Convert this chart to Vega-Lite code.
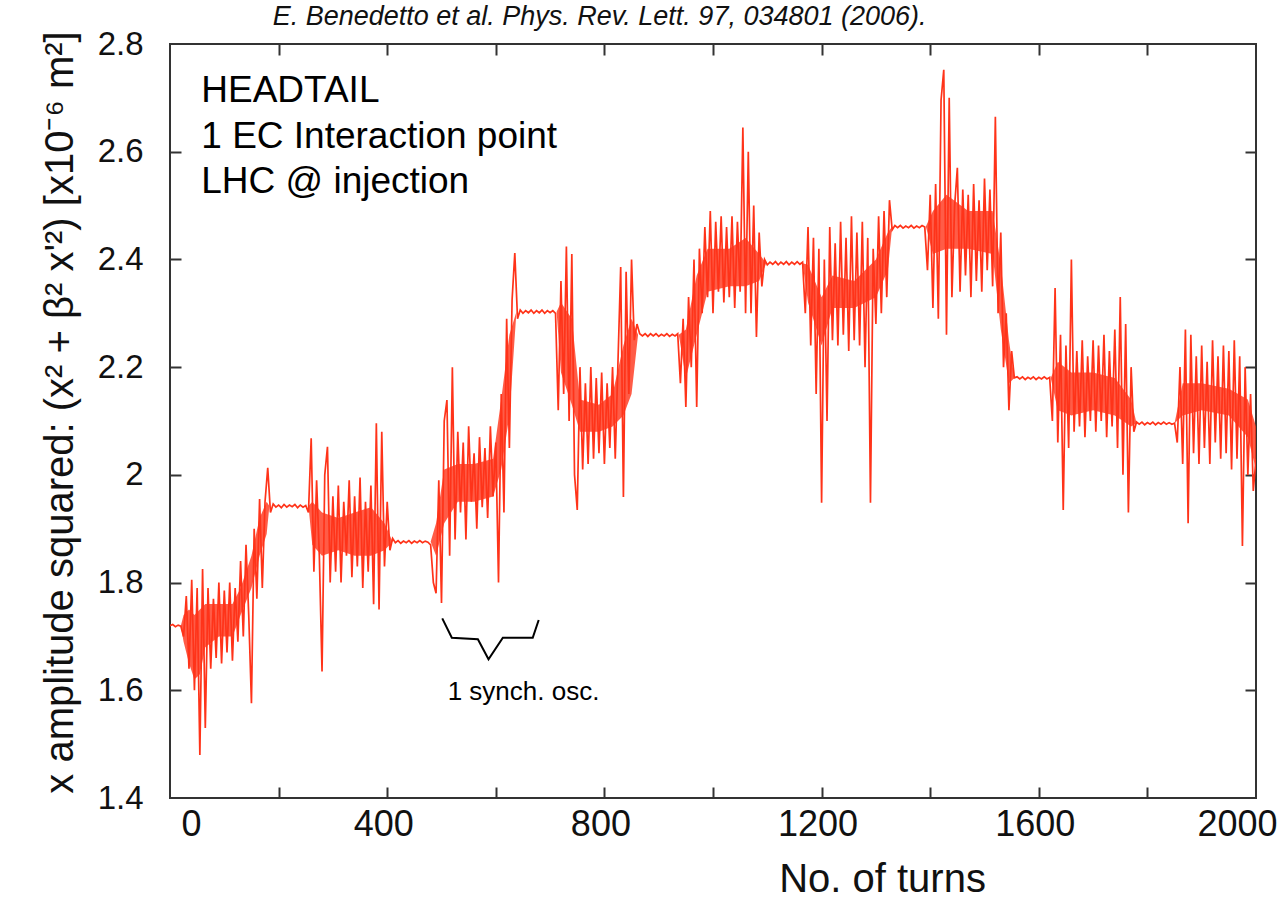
{
"$schema": "https://vega.github.io/schema/vega-lite/v6.json",
"width": 1086, "height": 754,
"autosize": {"type": "none"},
"padding": {"left": 170, "top": 44, "right": 29, "bottom": 103},
"background": "white",
"config": {"view": {"stroke": "#333", "strokeWidth": 2}, "axis": {"grid": false, "domain": false, "labelFont": "Liberation Sans", "titleFont": "Liberation Sans", "labelColor": "#111", "titleColor": "#111", "tickColor": "#333", "tickWidth": 2}, "text": {"font": "Liberation Sans"}},
"datasets": {
"series": [
{"turn":0,"amp":1.720},{"turn":5,"amp":1.722},{"turn":10,"amp":1.718},{"turn":15,"amp":1.721},{"turn":20,"amp":1.719},{"turn":25,"amp":1.700},{"turn":30,"amp":1.775},{"turn":35,"amp":1.640},{"turn":40,"amp":1.805},{"turn":45,"amp":1.600},{"turn":50,"amp":1.790},{"turn":55,"amp":1.480},{"turn":60,"amp":1.825},{"turn":65,"amp":1.530},{"turn":70,"amp":1.790},{"turn":75,"amp":1.640},{"turn":80,"amp":1.770},{"turn":85,"amp":1.660},{"turn":90,"amp":1.800},{"turn":95,"amp":1.650},{"turn":100,"amp":1.785},{"turn":105,"amp":1.670},{"turn":110,"amp":1.800},{"turn":115,"amp":1.655},{"turn":120,"amp":1.790},{"turn":125,"amp":1.690},{"turn":130,"amp":1.840},{"turn":135,"amp":1.700},{"turn":140,"amp":1.870},{"turn":145,"amp":1.740},{"turn":150,"amp":1.576},{"turn":155,"amp":1.900},{"turn":160,"amp":1.770},{"turn":165,"amp":1.955},{"turn":170,"amp":1.790},{"turn":175,"amp":1.950},{"turn":180,"amp":2.013},{"turn":185,"amp":1.930},{"turn":190,"amp":1.946},{"turn":195,"amp":1.940},{"turn":200,"amp":1.944},{"turn":205,"amp":1.939},{"turn":210,"amp":1.945},{"turn":215,"amp":1.940},{"turn":220,"amp":1.944},{"turn":225,"amp":1.941},{"turn":230,"amp":1.945},{"turn":235,"amp":1.939},{"turn":240,"amp":1.944},{"turn":245,"amp":1.940},{"turn":250,"amp":1.943},{"turn":255,"amp":1.930},{"turn":260,"amp":2.068},{"turn":265,"amp":1.820},{"turn":270,"amp":1.990},{"turn":275,"amp":1.850},{"turn":280,"amp":1.635},{"turn":285,"amp":2.000},{"turn":290,"amp":2.052},{"turn":295,"amp":1.800},{"turn":300,"amp":1.960},{"turn":305,"amp":1.820},{"turn":310,"amp":1.980},{"turn":315,"amp":1.800},{"turn":320,"amp":1.950},{"turn":325,"amp":1.850},{"turn":330,"amp":1.990},{"turn":335,"amp":1.810},{"turn":340,"amp":1.960},{"turn":345,"amp":1.830},{"turn":350,"amp":1.995},{"turn":355,"amp":1.790},{"turn":360,"amp":1.950},{"turn":365,"amp":1.820},{"turn":370,"amp":1.980},{"turn":375,"amp":1.760},{"turn":380,"amp":2.096},{"turn":385,"amp":1.750},{"turn":390,"amp":2.080},{"turn":395,"amp":1.830},{"turn":400,"amp":1.950},{"turn":405,"amp":1.860},{"turn":410,"amp":1.882},{"turn":415,"amp":1.874},{"turn":420,"amp":1.878},{"turn":425,"amp":1.873},{"turn":430,"amp":1.877},{"turn":435,"amp":1.874},{"turn":440,"amp":1.878},{"turn":445,"amp":1.873},{"turn":450,"amp":1.877},{"turn":455,"amp":1.874},{"turn":460,"amp":1.878},{"turn":465,"amp":1.874},{"turn":470,"amp":1.877},{"turn":475,"amp":1.875},{"turn":480,"amp":1.870},{"turn":485,"amp":1.800},{"turn":490,"amp":1.780},{"turn":495,"amp":1.990},{"turn":500,"amp":1.762},{"turn":505,"amp":2.100},{"turn":510,"amp":2.139},{"turn":515,"amp":1.850},{"turn":520,"amp":2.200},{"turn":525,"amp":1.880},{"turn":530,"amp":2.080},{"turn":535,"amp":1.930},{"turn":540,"amp":2.060},{"turn":545,"amp":1.880},{"turn":550,"amp":2.090},{"turn":555,"amp":1.950},{"turn":560,"amp":2.040},{"turn":565,"amp":1.900},{"turn":570,"amp":2.070},{"turn":575,"amp":1.940},{"turn":580,"amp":2.050},{"turn":585,"amp":1.920},{"turn":590,"amp":2.090},{"turn":595,"amp":1.960},{"turn":600,"amp":2.060},{"turn":605,"amp":1.800},{"turn":610,"amp":2.150},{"turn":615,"amp":1.930},{"turn":620,"amp":2.290},{"turn":625,"amp":2.050},{"turn":630,"amp":2.325},{"turn":635,"amp":2.412},{"turn":640,"amp":2.290},{"turn":645,"amp":2.306},{"turn":650,"amp":2.300},{"turn":655,"amp":2.305},{"turn":660,"amp":2.301},{"turn":665,"amp":2.306},{"turn":670,"amp":2.300},{"turn":675,"amp":2.305},{"turn":680,"amp":2.301},{"turn":685,"amp":2.306},{"turn":690,"amp":2.300},{"turn":695,"amp":2.305},{"turn":700,"amp":2.301},{"turn":705,"amp":2.305},{"turn":710,"amp":2.300},{"turn":715,"amp":2.120},{"turn":720,"amp":2.360},{"turn":725,"amp":2.150},{"turn":730,"amp":2.424},{"turn":735,"amp":2.100},{"turn":740,"amp":2.410},{"turn":745,"amp":2.000},{"turn":750,"amp":1.935},{"turn":755,"amp":2.200},{"turn":760,"amp":2.010},{"turn":765,"amp":2.170},{"turn":770,"amp":2.020},{"turn":775,"amp":2.200},{"turn":780,"amp":2.030},{"turn":785,"amp":2.180},{"turn":790,"amp":2.040},{"turn":795,"amp":2.190},{"turn":800,"amp":2.020},{"turn":805,"amp":2.170},{"turn":810,"amp":2.050},{"turn":815,"amp":2.200},{"turn":820,"amp":2.030},{"turn":825,"amp":2.210},{"turn":830,"amp":2.386},{"turn":835,"amp":1.959},{"turn":840,"amp":2.377},{"turn":845,"amp":2.150},{"turn":850,"amp":2.400},{"turn":855,"amp":2.250},{"turn":860,"amp":2.280},{"turn":865,"amp":2.262},{"turn":870,"amp":2.258},{"turn":875,"amp":2.262},{"turn":880,"amp":2.257},{"turn":885,"amp":2.262},{"turn":890,"amp":2.258},{"turn":895,"amp":2.262},{"turn":900,"amp":2.257},{"turn":905,"amp":2.261},{"turn":910,"amp":2.258},{"turn":915,"amp":2.262},{"turn":920,"amp":2.257},{"turn":925,"amp":2.261},{"turn":930,"amp":2.258},{"turn":935,"amp":2.262},{"turn":940,"amp":2.170},{"turn":945,"amp":2.290},{"turn":950,"amp":2.126},{"turn":955,"amp":2.330},{"turn":960,"amp":2.200},{"turn":965,"amp":2.400},{"turn":970,"amp":2.126},{"turn":975,"amp":2.420},{"turn":980,"amp":2.300},{"turn":985,"amp":2.460},{"turn":990,"amp":2.330},{"turn":995,"amp":2.490},{"turn":1000,"amp":2.300},{"turn":1005,"amp":2.470},{"turn":1010,"amp":2.340},{"turn":1015,"amp":2.480},{"turn":1020,"amp":2.320},{"turn":1025,"amp":2.460},{"turn":1030,"amp":2.330},{"turn":1035,"amp":2.480},{"turn":1040,"amp":2.310},{"turn":1045,"amp":2.470},{"turn":1050,"amp":2.340},{"turn":1055,"amp":2.645},{"turn":1060,"amp":2.300},{"turn":1065,"amp":2.600},{"turn":1070,"amp":2.300},{"turn":1075,"amp":2.500},{"turn":1080,"amp":2.256},{"turn":1085,"amp":2.450},{"turn":1090,"amp":2.350},{"turn":1095,"amp":2.400},{"turn":1100,"amp":2.390},{"turn":1105,"amp":2.395},{"turn":1110,"amp":2.391},{"turn":1115,"amp":2.396},{"turn":1120,"amp":2.390},{"turn":1125,"amp":2.395},{"turn":1130,"amp":2.391},{"turn":1135,"amp":2.396},{"turn":1140,"amp":2.390},{"turn":1145,"amp":2.395},{"turn":1150,"amp":2.391},{"turn":1155,"amp":2.396},{"turn":1160,"amp":2.391},{"turn":1165,"amp":2.395},{"turn":1170,"amp":2.300},{"turn":1175,"amp":2.460},{"turn":1180,"amp":2.240},{"turn":1185,"amp":2.440},{"turn":1190,"amp":2.150},{"turn":1195,"amp":2.420},{"turn":1200,"amp":1.948},{"turn":1205,"amp":2.400},{"turn":1210,"amp":2.100},{"turn":1215,"amp":2.460},{"turn":1220,"amp":2.250},{"turn":1225,"amp":2.430},{"turn":1230,"amp":2.240},{"turn":1235,"amp":2.470},{"turn":1240,"amp":2.260},{"turn":1245,"amp":2.440},{"turn":1250,"amp":2.230},{"turn":1255,"amp":2.480},{"turn":1260,"amp":2.250},{"turn":1265,"amp":2.450},{"turn":1270,"amp":2.240},{"turn":1275,"amp":2.470},{"turn":1280,"amp":2.200},{"turn":1285,"amp":2.440},{"turn":1290,"amp":1.948},{"turn":1295,"amp":2.420},{"turn":1300,"amp":2.280},{"turn":1305,"amp":2.480},{"turn":1310,"amp":2.300},{"turn":1315,"amp":2.490},{"turn":1320,"amp":2.330},{"turn":1325,"amp":2.510},{"turn":1330,"amp":2.455},{"turn":1335,"amp":2.463},{"turn":1340,"amp":2.459},{"turn":1345,"amp":2.463},{"turn":1350,"amp":2.458},{"turn":1355,"amp":2.462},{"turn":1360,"amp":2.459},{"turn":1365,"amp":2.463},{"turn":1370,"amp":2.458},{"turn":1375,"amp":2.462},{"turn":1380,"amp":2.459},{"turn":1385,"amp":2.463},{"turn":1390,"amp":2.460},{"turn":1395,"amp":2.380},{"turn":1400,"amp":2.520},{"turn":1405,"amp":2.310},{"turn":1410,"amp":2.540},{"turn":1415,"amp":2.290},{"turn":1420,"amp":2.696},{"turn":1425,"amp":2.752},{"turn":1430,"amp":2.260},{"turn":1435,"amp":2.700},{"turn":1440,"amp":2.330},{"turn":1445,"amp":2.500},{"turn":1450,"amp":2.570},{"turn":1455,"amp":2.340},{"turn":1460,"amp":2.530},{"turn":1465,"amp":2.370},{"turn":1470,"amp":2.520},{"turn":1475,"amp":2.330},{"turn":1480,"amp":2.540},{"turn":1485,"amp":2.360},{"turn":1490,"amp":2.510},{"turn":1495,"amp":2.340},{"turn":1500,"amp":2.550},{"turn":1505,"amp":2.380},{"turn":1510,"amp":2.530},{"turn":1515,"amp":2.350},{"turn":1520,"amp":2.665},{"turn":1525,"amp":2.300},{"turn":1530,"amp":2.450},{"turn":1535,"amp":2.200},{"turn":1540,"amp":2.300},{"turn":1545,"amp":2.120},{"turn":1550,"amp":2.230},{"turn":1555,"amp":2.180},{"turn":1560,"amp":2.182},{"turn":1565,"amp":2.178},{"turn":1570,"amp":2.182},{"turn":1575,"amp":2.177},{"turn":1580,"amp":2.181},{"turn":1585,"amp":2.178},{"turn":1590,"amp":2.182},{"turn":1595,"amp":2.177},{"turn":1600,"amp":2.181},{"turn":1605,"amp":2.178},{"turn":1610,"amp":2.182},{"turn":1615,"amp":2.178},{"turn":1620,"amp":2.181},{"turn":1625,"amp":2.100},{"turn":1630,"amp":2.347},{"turn":1635,"amp":2.060},{"turn":1640,"amp":2.260},{"turn":1645,"amp":1.935},{"turn":1650,"amp":2.240},{"turn":1655,"amp":2.050},{"turn":1660,"amp":2.400},{"turn":1665,"amp":2.080},{"turn":1670,"amp":2.230},{"turn":1675,"amp":2.090},{"turn":1680,"amp":2.250},{"turn":1685,"amp":2.070},{"turn":1690,"amp":2.220},{"turn":1695,"amp":2.100},{"turn":1700,"amp":2.250},{"turn":1705,"amp":2.080},{"turn":1710,"amp":2.240},{"turn":1715,"amp":2.100},{"turn":1720,"amp":2.260},{"turn":1725,"amp":2.070},{"turn":1730,"amp":2.230},{"turn":1735,"amp":2.090},{"turn":1740,"amp":2.270},{"turn":1745,"amp":2.050},{"turn":1750,"amp":2.330},{"turn":1755,"amp":2.000},{"turn":1760,"amp":2.280},{"turn":1765,"amp":1.930},{"turn":1770,"amp":2.200},{"turn":1775,"amp":2.080},{"turn":1780,"amp":2.098},{"turn":1785,"amp":2.094},{"turn":1790,"amp":2.098},{"turn":1795,"amp":2.093},{"turn":1800,"amp":2.097},{"turn":1805,"amp":2.094},{"turn":1810,"amp":2.098},{"turn":1815,"amp":2.093},{"turn":1820,"amp":2.097},{"turn":1825,"amp":2.094},{"turn":1830,"amp":2.098},{"turn":1835,"amp":2.094},{"turn":1840,"amp":2.097},{"turn":1845,"amp":2.094},{"turn":1850,"amp":2.096},{"turn":1855,"amp":2.060},{"turn":1860,"amp":2.200},{"turn":1865,"amp":2.020},{"turn":1870,"amp":2.270},{"turn":1875,"amp":1.910},{"turn":1880,"amp":2.260},{"turn":1885,"amp":2.040},{"turn":1890,"amp":2.220},{"turn":1895,"amp":2.020},{"turn":1900,"amp":2.240},{"turn":1905,"amp":2.050},{"turn":1910,"amp":2.210},{"turn":1915,"amp":2.020},{"turn":1920,"amp":2.250},{"turn":1925,"amp":2.060},{"turn":1930,"amp":2.220},{"turn":1935,"amp":2.030},{"turn":1940,"amp":2.240},{"turn":1945,"amp":2.040},{"turn":1950,"amp":2.230},{"turn":1955,"amp":2.010},{"turn":1960,"amp":2.250},{"turn":1965,"amp":2.030},{"turn":1970,"amp":2.220},{"turn":1975,"amp":1.868},{"turn":1980,"amp":2.200},{"turn":1985,"amp":2.000},{"turn":1990,"amp":2.150},{"turn":1995,"amp":1.970},{"turn":2000,"amp":2.030}
],
"core": [
{"turn":0,"lo":1.72,"hi":1.72},{"turn":20,"lo":1.72,"hi":1.72},{"turn":25,"lo":1.69,"hi":1.74},{"turn":35,"lo":1.65,"hi":1.75},{"turn":45,"lo":1.62,"hi":1.74},{"turn":55,"lo":1.63,"hi":1.75},{"turn":65,"lo":1.68,"hi":1.76},{"turn":90,"lo":1.70,"hi":1.76},{"turn":115,"lo":1.70,"hi":1.76},{"turn":130,"lo":1.74,"hi":1.79},{"turn":150,"lo":1.79,"hi":1.85},{"turn":165,"lo":1.85,"hi":1.92},{"turn":178,"lo":1.89,"hi":1.95},{"turn":183,"lo":1.942,"hi":1.942},{"turn":255,"lo":1.942,"hi":1.942},{"turn":262,"lo":1.87,"hi":1.95},{"turn":280,"lo":1.85,"hi":1.93},{"turn":310,"lo":1.86,"hi":1.92},{"turn":340,"lo":1.85,"hi":1.93},{"turn":370,"lo":1.85,"hi":1.94},{"turn":395,"lo":1.86,"hi":1.91},{"turn":410,"lo":1.876,"hi":1.876},{"turn":480,"lo":1.876,"hi":1.876},{"turn":490,"lo":1.85,"hi":1.91},{"turn":505,"lo":1.91,"hi":2.01},{"turn":530,"lo":1.95,"hi":2.02},{"turn":560,"lo":1.95,"hi":2.02},{"turn":595,"lo":1.96,"hi":2.03},{"turn":610,"lo":2.01,"hi":2.14},{"turn":625,"lo":2.11,"hi":2.26},{"turn":638,"lo":2.303,"hi":2.303},{"turn":712,"lo":2.303,"hi":2.303},{"turn":720,"lo":2.19,"hi":2.32},{"turn":740,"lo":2.13,"hi":2.29},{"turn":755,"lo":2.08,"hi":2.14},{"turn":790,"lo":2.08,"hi":2.13},{"turn":815,"lo":2.09,"hi":2.15},{"turn":835,"lo":2.11,"hi":2.24},{"turn":850,"lo":2.15,"hi":2.29},{"turn":862,"lo":2.26,"hi":2.26},{"turn":937,"lo":2.26,"hi":2.26},{"turn":950,"lo":2.18,"hi":2.27},{"turn":970,"lo":2.26,"hi":2.37},{"turn":990,"lo":2.34,"hi":2.42},{"turn":1030,"lo":2.35,"hi":2.42},{"turn":1060,"lo":2.35,"hi":2.44},{"turn":1085,"lo":2.36,"hi":2.41},{"turn":1098,"lo":2.393,"hi":2.393},{"turn":1165,"lo":2.393,"hi":2.393},{"turn":1175,"lo":2.32,"hi":2.39},{"turn":1200,"lo":2.24,"hi":2.33},{"turn":1220,"lo":2.31,"hi":2.37},{"turn":1260,"lo":2.31,"hi":2.36},{"turn":1300,"lo":2.33,"hi":2.40},{"turn":1322,"lo":2.38,"hi":2.45},{"turn":1330,"lo":2.461,"hi":2.461},{"turn":1392,"lo":2.461,"hi":2.461},{"turn":1405,"lo":2.41,"hi":2.49},{"turn":1430,"lo":2.42,"hi":2.52},{"turn":1470,"lo":2.42,"hi":2.49},{"turn":1515,"lo":2.41,"hi":2.49},{"turn":1530,"lo":2.27,"hi":2.39},{"turn":1545,"lo":2.17,"hi":2.25},{"turn":1555,"lo":2.18,"hi":2.18},{"turn":1622,"lo":2.18,"hi":2.18},{"turn":1635,"lo":2.12,"hi":2.21},{"turn":1660,"lo":2.11,"hi":2.19},{"turn":1700,"lo":2.12,"hi":2.19},{"turn":1740,"lo":2.11,"hi":2.18},{"turn":1770,"lo":2.09,"hi":2.14},{"turn":1780,"lo":2.096,"hi":2.096},{"turn":1850,"lo":2.096,"hi":2.096},{"turn":1865,"lo":2.11,"hi":2.17},{"turn":1900,"lo":2.12,"hi":2.17},{"turn":1950,"lo":2.11,"hi":2.16},{"turn":1985,"lo":2.07,"hi":2.14},{"turn":2000,"lo":2.01,"hi":2.09}
],
"bracket": [
{"turn":501.4,"amp":1.7336},{"turn":519,"amp":1.6976},{"turn":567,"amp":1.6947},{"turn":586.6,"amp":1.6575},{"turn":613,"amp":1.6976},{"turn":668,"amp":1.6976},{"turn":679,"amp":1.7305}
],
"notes": [
{"turn":57.6,"amp":2.6929,"label":"HEADTAIL"},{"turn":57.6,"amp":2.6069,"label":"1 EC Interaction point"},{"turn":57.6,"amp":2.5239,"label":"LHC @ injection"}
],
"synch": [
{"turn":651,"amp":1.597,"label":"1 synch. osc."}
],
"cite": [
{"turn":189,"amp":2.8344,"label":"E. Benedetto et al. Phys. Rev. Lett. 97, 034801 (2006)."}
]
},
"layer": [
{
"data": {"name": "core"},
"mark": {"type": "area", "color": "#ff3319", "opacity": 0.8},
"encoding": {
"x": {"field": "turn", "type": "quantitative", "axis": null},
"y": {"field": "lo", "type": "quantitative", "axis": null},
"y2": {"field": "hi"}
}
},
{
"data": {"name": "series"},
"mark": {"type": "line", "color": "#ff3319", "strokeWidth": 1.7, "clip": true},
"encoding": {
"x": {"field": "turn", "type": "quantitative", "scale": {"domain": [0, 2000], "nice": false, "zero": false},
"axis": {"orient": "bottom", "values": [0,200,400,600,800,1000,1200,1400,1600,1800,2000], "ticks": false, "labelFlush": false, "labelExpr": "datum.value % 400 == 0 ? format(datum.value, 'd') : ''", "labelFontSize": 36, "labelPadding": 9, "labelOffset": {"condition": [{"test": "datum.value == 0", "value": 21}, {"test": "datum.value == 2000", "value": -19}], "value": -4}, "title": "No. of turns", "titleFontSize": 40, "titleFontWeight": "normal", "titleX": 712, "titleY": 93, "titleBaseline": "alphabetic", "titleAlign": "center"}},
"y": {"field": "amp", "type": "quantitative", "scale": {"domain": [1.4, 2.8], "nice": false, "zero": false},
"axis": {"orient": "left", "values": [1.4,1.6,1.8,2.0,2.2,2.4,2.6,2.8], "format": "~g", "ticks": false, "labelFontSize": 33, "labelPadding": 27, "title": "x amplitude squared: (x² + β² x'²)  [x10⁻⁶ m²]", "titleFontSize": 40, "titleFontWeight": "normal", "titleAngle": -90, "titleX": -98, "titleY": 368, "titleBaseline": "alphabetic", "titleAlign": "center"}}
}
},
{
"data": {"name": "bracket"},
"mark": {"type": "line", "color": "#000", "strokeWidth": 2},
"encoding": {
"x": {"field": "turn", "type": "quantitative", "axis": null},
"y": {"field": "amp", "type": "quantitative", "axis": null}
}
},
{
"data": {"name": "notes"},
"mark": {"type": "text", "align": "left", "baseline": "alphabetic", "fontSize": 37, "color": "#000"},
"encoding": {
"x": {"field": "turn", "type": "quantitative", "axis": {"orient": "bottom", "values": [200,400,600,800,1000,1200,1400,1600,1800], "labels": false, "ticks": true, "tickSize": -11, "title": null}},
"y": {"field": "amp", "type": "quantitative", "axis": {"orient": "left", "values": [1.6,1.8,2.0,2.2,2.4,2.6], "labels": false, "ticks": true, "tickSize": -11, "title": null}},
"text": {"field": "label"}
}
},
{
"data": {"name": "synch"},
"mark": {"type": "text", "align": "center", "baseline": "middle", "fontSize": 26, "color": "#000"},
"encoding": {
"x": {"field": "turn", "type": "quantitative", "axis": {"orient": "top", "values": [200,400,600,800,1000,1200,1400,1600,1800], "labels": false, "ticks": true, "tickSize": -11, "title": null}},
"y": {"field": "amp", "type": "quantitative", "axis": {"orient": "right", "values": [1.6,1.8,2.0,2.2,2.4,2.6], "labels": false, "ticks": true, "tickSize": -11, "title": null}},
"text": {"field": "label"}
}
},
{
"data": {"name": "cite"},
"mark": {"type": "text", "align": "left", "baseline": "alphabetic", "fontSize": 27, "fontStyle": "italic", "color": "#111", "clip": false},
"encoding": {
"x": {"field": "turn", "type": "quantitative", "axis": null},
"y": {"field": "amp", "type": "quantitative", "axis": null},
"text": {"field": "label"}
}
}
],
"resolve": {"axis": {"x": "independent", "y": "independent"}}
}
